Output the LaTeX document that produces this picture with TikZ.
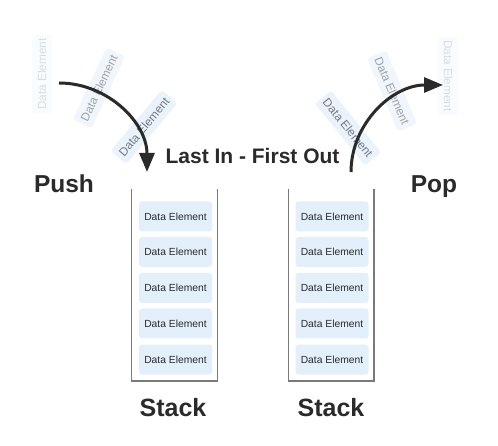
\documentclass[tikz,border=0pt]{standalone}
\usepackage{fontspec}
\setmainfont{Liberation Sans}
\usetikzlibrary{arrows.meta}
\definecolor{boxblue}{HTML}{E3EFFB}
\definecolor{ink}{HTML}{2A2A2A}
\definecolor{wallgray}{HTML}{7A7A7A}
\definecolor{fadetext}{HTML}{4A4F58}
\tikzset{
  elem/.style={fill=boxblue, rounded corners=3pt, minimum width=73pt, minimum height=30pt, inner sep=0pt, text=ink, font=\fontsize{10.3pt}{12pt}\selectfont},
  flying/.style={fill=boxblue, rounded corners=3pt, inner xsep=4pt, inner ysep=6pt, text=fadetext, font=\fontsize{11.8pt}{13pt}\selectfont},
  wall/.style={draw=wallgray, line width=1.2pt},
  bigword/.style={text=ink, font=\bfseries\fontsize{24.5pt}{28pt}\selectfont, inner sep=0pt, anchor=base},
  stackword/.style={text=ink, font=\bfseries\fontsize{25pt}{28pt}\selectfont, inner sep=0pt, anchor=base},
  motion/.style={draw=ink, line width=3pt, -{Triangle[length=19pt,width=15pt]}},
}
\begin{document}
\begin{tikzpicture}[x=1pt,y=-1pt]
\useasboundingbox (0,0) rectangle (498,446);
\fill[white] (0,0) rectangle (498,446);
% flying labels left
\node[flying, rotate=90, opacity=0.18] (l1) at (42,74) {Data Element};
\node[flying, rotate=65, opacity=0.5] (l2) at (99,88) {Data Element};
\node[flying, rotate=50, opacity=0.75] (l3) at (144,127) {Data Element};
% flying labels right
\node[flying, rotate=-51, opacity=0.75] (r1) at (348,128) {Data Element};
\node[flying, rotate=-67, opacity=0.5] (r2) at (392,91) {Data Element};
\node[flying, rotate=-90, opacity=0.18] (r3) at (448,76) {Data Element};
% stacks
\draw[wall] (131.7,189) -- (131.7,381) -- (217.3,381) -- (217.3,189);
\draw[wall] (288.3,189) -- (288.3,381) -- (374,381) -- (374,189);
\foreach \i/\y in {1/216.5,2/252,3/288,4/323.5,5/359.5}{
  \node[elem] (a\i) at (175.5,\y) {Data Element};
  \node[elem] (b\i) at (332,\y) {Data Element};
}
% words
\node[stackword] (s1) at (173,416.7) {Stack};
\node[stackword] (s2) at (331,416.7) {Stack};
\node[bigword] (push) at (64,193) {Push};
\node[bigword] (pop) at (434,193) {Pop};
\node[bigword, font=\bfseries\fontsize{21pt}{24pt}\selectfont] (lifo) at (252.5,163.3) {Last In - First Out};
% arrows
\coordinate (pushA) at (59,83);
\coordinate (pushB) at (147,172);
\coordinate (popA) at (351,172);
\coordinate (popB) at (443,85);
\draw[motion] (pushA) .. controls (108,83) and (147,123) .. (pushB);
\draw[motion] (popA) .. controls (351,124) and (392,85) .. (popB);
\end{tikzpicture}
\end{document}
